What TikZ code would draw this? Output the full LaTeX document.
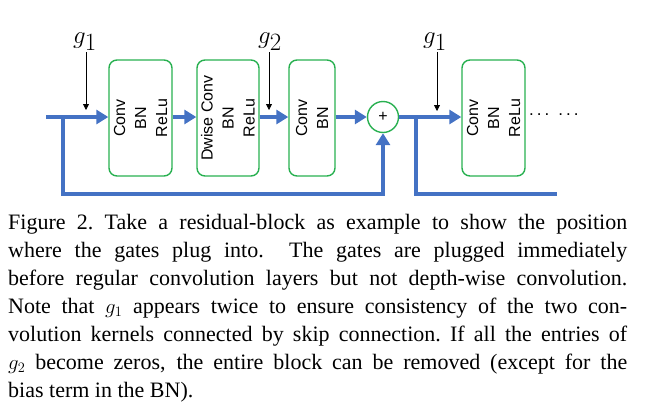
\documentclass[tikz,border=0pt]{standalone}
\usepackage{fontspec}
\setmainfont{Liberation Serif}
\setsansfont{Liberation Sans}
\usetikzlibrary{arrows.meta,calc}
\definecolor{flowblue}{RGB}{68,114,196}
\definecolor{boxgreen}{RGB}{40,176,80}
\begin{document}
\begin{tikzpicture}[x=1pt,y=-1pt,
  flow/.style={draw=flowblue,line width=4pt},
  flowarrow/.style={flow,-{Triangle[length=12pt,width=14pt]}},
  layerbox/.style={draw=boxgreen,line width=1.4pt,rounded corners=8pt,minimum height=116pt,inner sep=0pt},
  layertext/.style={rotate=90,align=center,font=\sffamily\fontsize{16pt}{21pt}\selectfont,inner sep=0pt},
  gatelabel/.style={font=\fontsize{34pt}{38pt}\selectfont,inner sep=0pt,anchor=base},
  gatearrow/.style={draw=black,line width=0.8pt,-{Triangle[length=6pt,width=6pt]}}]
\useasboundingbox (0,0) rectangle (647,410);

% boxes
\node[layerbox,minimum width=63pt] (b1) at (140.5,118) {};
\node[layertext] (t1) at (b1.center) {Conv\\BN\\ReLu};
\node[layerbox,minimum width=62pt] (b2) at (228,118) {};
\node[layertext] (t2) at (b2.center) {Dwise Conv\\BN\\ReLu};
\node[layerbox,minimum width=46pt] (b3) at (312,118) {};
\node[layertext] (t3) at (b3.center) {Conv\\BN};
\node[draw=boxgreen,line width=1.4pt,circle,minimum size=31pt,inner sep=0pt,font=\sffamily\fontsize{16pt}{18pt}\selectfont] (plus) at (383,117) {+};
\node[layerbox,minimum width=63pt] (b4) at (493.5,118) {};
\node[layertext] (t4) at (b4.center) {Conv\\BN\\ReLu};
\node[font=\sffamily\fontsize{17pt}{18pt}\selectfont,anchor=west,inner sep=0pt] (dots) at (529,115) {.\kern3pt.\kern3pt.\kern9pt.\kern3pt.\kern3pt.};

% main flow
\coordinate (in) at (46,117);
\coordinate (s1) at (63,117);
\coordinate (bot1) at (63,194);
\coordinate (s2) at (416,117);
\coordinate (e2) at (557,194);
\draw[flowarrow] (in) -- (in -| b1.west);
\draw[flowarrow] (b1.east |- in) -- (in -| b2.west);
\draw[flowarrow] (b2.east |- in) -- (in -| b3.west);
\draw[flowarrow] (b3.east |- in) -- (plus.west);
\draw[flowarrow] (plus.east) -- (plus.east -| b4.west);
\draw[flowarrow] (s1) -- (bot1) -| (plus.south);
\draw[flow] (s2) |- (e2);

% gates
\node[gatelabel] (ga) at (85,43) {$g_1$};
\node[gatelabel] (gb) at (270,43) {$g_2$};
\node[gatelabel] (gc) at (435,43) {$g_1$};
\coordinate (ta) at (86,110);
\coordinate (tb) at (269,110);
\coordinate (tc) at (437,111);
\draw[gatearrow] (ta |- 0,52) -- (ta);
\draw[gatearrow] (tb |- 0,52) -- (tb);
\draw[gatearrow] (tc |- 0,52) -- (tc);

% caption
\node[anchor=base west,inner sep=0pt,
  font=\fontsize{22pt}{28pt}\selectfont] (cap) at (8,229) {\vtop{\hsize=619pt
\hbox to \hsize{Figure 2.\ Take a residual-block as example to show the position}
\hbox to \hsize{where the gates plug into.\ \ The gates are plugged immediately}
\hbox to \hsize{before regular convolution layers but not depth-wise convolution.}
\hbox to \hsize{Note that $g_1$ appears twice to ensure consistency of the two con-}
\hbox to \hsize{volution kernels connected by skip connection.\ If all the entries of}
\hbox to \hsize{$g_2$ become zeros, the entire block can be removed (except for the}
\hbox{bias term in the BN).}}};
\end{tikzpicture}
\end{document}
